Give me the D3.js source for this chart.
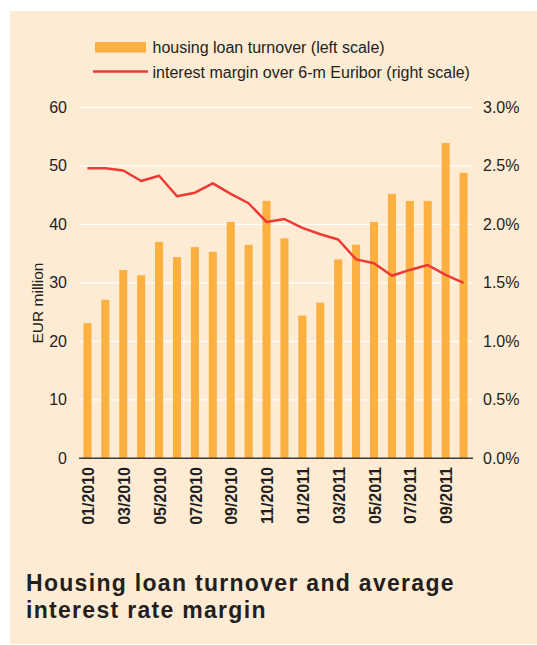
<!DOCTYPE html>
<html>
<head>
<meta charset="utf-8">
<script src="https://cdn.jsdelivr.net/npm/d3@7"></script>
<style>
  body { margin: 0; background: #ffffff; }
  svg text { font-family: "Liberation Sans", Arial, sans-serif; fill: #231f20; }
</style>
</head>
<body>
<svg id="chart"></svg>
<script>
// months on the x axis
let months = ["01/2010", "02/2010", "03/2010", "04/2010", "05/2010", "06/2010",
    "07/2010", "08/2010", "09/2010", "10/2010", "11/2010", "12/2010",
    "01/2011", "02/2011", "03/2011", "04/2011", "05/2011", "06/2011",
    "07/2011", "08/2011", "09/2011", "10/2011"];
// housing loan turnover, EUR million (left scale)
let turnover = [23.1, 27.1, 32.2, 31.3, 37.0, 34.4, 36.1, 35.3, 40.4, 36.5, 44.0, 37.6,
    24.4, 26.6, 34.0, 36.5, 40.4, 45.2, 44.0, 44.0, 53.9, 48.8];
// interest margin over 6-m Euribor, % (right scale)
let margin = [2.48, 2.48, 2.46, 2.37, 2.415, 2.24, 2.27, 2.35, 2.26, 2.18, 2.02, 2.045,
    1.97, 1.915, 1.87, 1.70, 1.667, 1.56, 1.61, 1.652, 1.567, 1.50];
let leftTicks = [0, 10, 20, 30, 40, 50, 60];
let rightTicks = [0, 0.5, 1.0, 1.5, 2.0, 2.5, 3.0];
let shownMonths = months.filter((m, i) => i % 2 == 0);

let width = 537;
let height = 645;
let svg = d3.select("#chart")
    .attr("width", width)
    .attr("height", height);

// фон панели
svg.append("rect")
    .attr("x", 10).attr("y", 11)
    .attr("width", 527).attr("height", 633)
    .attr("fill", "#fdebd4");

// шкалы
let plotLeft = 80, plotRight = 473;
let scaleX = d3.scaleBand()
    .domain(months)
    .range([78.5, 472.5])
    .paddingInner(0.55)
    .paddingOuter(0.275);
let scaleY = d3.scaleLinear().domain([0, 60]).range([458.3, 107.3]);
let scaleY2 = d3.scaleLinear().domain([0, 3]).range([458.3, 107.3]);

// горизонтальная сетка
svg.append("g")
    .selectAll("line")
    .data(leftTicks.filter(t => t > 0))
    .enter()
    .append("line")
    .attr("x1", plotLeft).attr("x2", plotRight)
    .attr("y1", d => scaleY(d)).attr("y2", d => scaleY(d))
    .attr("stroke", "#ffffff")
    .attr("stroke-width", 1.2);

// левая ось
let axisLeft = d3.axisLeft(scaleY).tickValues(leftTicks).tickSize(0).tickPadding(13);
let gl = svg.append("g").attr("transform", `translate(${plotLeft}, 0)`).call(axisLeft);
gl.select(".domain").remove();
gl.selectAll("text").style("font-size", "16px").attr("fill", "#231f20");

// правая ось
let axisRight = d3.axisRight(scaleY2).tickValues(rightTicks).tickSize(0).tickPadding(10)
    .tickFormat(d => d.toFixed(1) + "%");
let gr = svg.append("g").attr("transform", `translate(${plotRight}, 0)`).call(axisRight);
gr.select(".domain").remove();
gr.selectAll("text").style("font-size", "16px").attr("fill", "#231f20");

// столбцы
svg.selectAll(".bar")
    .data(months)
    .enter()
    .append("rect")
    .attr("class", "bar")
    .attr("x", m => scaleX(m))
    .attr("width", scaleX.bandwidth())
    .attr("y", (m, i) => scaleY(turnover[i]))
    .attr("height", (m, i) => scaleY(0) - scaleY(turnover[i]))
    .attr("fill", "#fbb040");

// базовая линия
svg.append("line")
    .attr("x1", plotLeft - 1).attr("x2", plotRight)
    .attr("y1", scaleY(0)).attr("y2", scaleY(0))
    .attr("stroke", "#3a3a3a")
    .attr("stroke-width", 1.5);

// линия маржи
let line = d3.line()
    .x((d, i) => scaleX(months[i]) + scaleX.bandwidth() / 2)
    .y(d => scaleY2(d));
svg.append("path")
    .datum(margin)
    .attr("d", line)
    .attr("fill", "none")
    .attr("stroke", "#ee3a33")
    .attr("stroke-width", 2.5)
    .attr("stroke-linejoin", "round");

// подписи оси X
svg.append("g")
    .selectAll("text")
    .data(shownMonths)
    .enter()
    .append("text")
    .attr("transform", m => `translate(${scaleX(m) + scaleX.bandwidth() / 2 + 1}, 467) rotate(-90)`)
    .attr("dy", "0.35em")
    .attr("text-anchor", "end")
    .style("font-size", "16px")
    .style("font-weight", "bold")
    .attr("fill", "#2a2a2a")
    .text(m => m);

// подпись оси Y
svg.append("text")
    .attr("transform", "translate(43, 303) rotate(-90)")
    .attr("text-anchor", "middle")
    .style("font-size", "15.5px")
    .text("EUR million");

// легенда
let legend = svg.append("g");
legend.append("rect")
    .attr("x", 95).attr("y", 42)
    .attr("width", 51).attr("height", 10.5)
    .attr("fill", "#fbb040");
legend.append("text")
    .attr("x", 152.5).attr("y", 53)
    .style("font-size", "16px")
    .text("housing loan turnover (left scale)");
legend.append("line")
    .attr("x1", 93).attr("x2", 148)
    .attr("y1", 71.5).attr("y2", 71.5)
    .attr("stroke", "#ee3a33")
    .attr("stroke-width", 2.5);
legend.append("text")
    .attr("x", 152.5).attr("y", 77.5)
    .style("font-size", "16px")
    .text("interest margin over 6-m Euribor (right scale)");

// заголовок
let title = svg.append("text")
    .attr("x", 26).attr("y", 591)
    .style("font-size", "23px")
    .style("font-weight", "bold")
    .style("letter-spacing", "1.3px");
title.append("tspan").attr("x", 26).text("Housing loan turnover and average");
title.append("tspan").attr("x", 26).attr("dy", 27).text("interest rate margin");
</script>
</body>
</html>
